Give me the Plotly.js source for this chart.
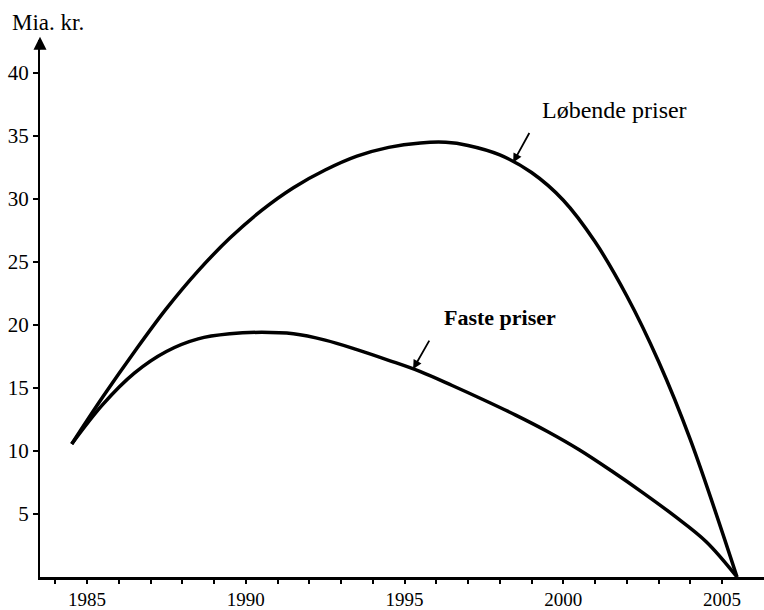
<!DOCTYPE html>
<html>
<head>
<meta charset="utf-8">
<script src="https://cdn.plot.ly/plotly-3.0.1.min.js"></script>
<style>html,body{margin:0;padding:0;background:#fff;}#chart{width:764px;height:610px;}</style>
</head>
<body>
<div id="chart"></div>
<script>
// Løbende priser (current prices), Mia. kr.
const yearsLobende = [1984.52, 1985.5, 1986.5, 1987.5, 1988.5, 1989.5, 1990.5, 1991.5, 1992.5, 1993.5, 1994.5, 1995.5, 1996.3, 1997.0, 1998.0, 1999.0, 2000.0, 2001.0, 2002.0, 2003.0, 2004.0, 2005.47];
const lobende = [10.56, 14.3, 17.9, 21.3, 24.3, 26.9, 29.1, 30.9, 32.3, 33.4, 34.1, 34.45, 34.5, 34.25, 33.5, 32.1, 29.9, 26.6, 22.3, 17.1, 10.9, 0];
// Faste priser (constant prices), Mia. kr.
const yearsFaste = [1984.52, 1985.5, 1986.5, 1987.5, 1988.5, 1989.5, 1990.5, 1991.5, 1992.5, 1993.5, 1994.5, 1995.5, 1996.5, 1997.5, 1998.5, 1999.5, 2000.5, 2001.5, 2002.5, 2003.5, 2004.5, 2005.47];
const faste = [10.56, 13.7, 16.2, 17.9, 18.9, 19.3, 19.42, 19.3, 18.8, 18.05, 17.2, 16.3, 15.2, 14.05, 12.85, 11.55, 10.1, 8.45, 6.7, 4.85, 2.8, 0];

const xTickVals = [1985, 1990, 1995, 2000, 2005];
const xTickText = ['1985', '1990', '1995', '2000', '2005'];
const yTickVals = [5, 10, 15, 20, 25, 30, 35, 40];
const yTickText = ['5', '10', '15', '20', '25', '30', '35', '40'];
const seriesNames = ['Løbende priser', 'Faste priser'];
const yUnit = 'Mia. kr.';

const minorTicks = [];
for (let y = 1984; y <= 2005; y++) minorTicks.push(y);

const serif = 'Liberation Serif, Times New Roman, serif';
const lineStyle = {color: '#000', width: 3.5, shape: 'spline', smoothing: 1};

const traces = [
  {x: yearsLobende, y: lobende, mode: 'lines', name: seriesNames[0], line: lineStyle, hoverinfo: 'skip'},
  {x: yearsFaste, y: faste, mode: 'lines', name: seriesNames[1], line: lineStyle, hoverinfo: 'skip'}
];

const layout = {
  width: 764, height: 610,
  margin: {l: 40, r: 0, t: 40, b: 33, pad: 0},
  paper_bgcolor: '#fff', plot_bgcolor: '#fff',
  showlegend: false,
  font: {family: serif, color: '#000'},
  xaxis: {
    range: [1983.52, 2006.32],
    tickvals: xTickVals, ticktext: xTickText,
    ticks: 'outside', ticklen: 4, tickwidth: 2, tickcolor: '#000',
    ticklabelstandoff: 0,
    minor: {tickvals: minorTicks, ticks: 'outside', ticklen: 4, tickwidth: 2, tickcolor: '#000', showgrid: false},
    showline: true, linecolor: '#000', linewidth: 2.5,
    showgrid: false, zeroline: false,
    tickfont: {family: serif, size: 19, color: '#000'}
  },
  yaxis: {
    range: [0, 42.62],
    tickvals: yTickVals, ticktext: yTickText,
    ticks: 'outside', ticklen: 5, tickwidth: 2, tickcolor: '#000',
    showline: true, linecolor: '#000', linewidth: 2,
    showgrid: false, zeroline: false,
    tickfont: {family: serif, size: 21, color: '#000'}
  },
  annotations: [
    {xref: 'paper', yref: 'paper', x: 0, y: 1.006, text: '', showarrow: true,
     ax: 0, ay: 14, arrowhead: 2, arrowsize: 1.3, arrowwidth: 2, arrowcolor: '#000'},
    {xref: 'paper', yref: 'paper', x: -0.0414, y: 1.0335, xanchor: 'left', yanchor: 'middle',
     text: yUnit, showarrow: false, font: {family: serif, size: 23, color: '#000'}},
    {x: 1998.42, y: 32.9, text: '', showarrow: true, ax: 17, ay: -31,
     arrowhead: 2, arrowsize: 1, arrowwidth: 1.8, arrowcolor: '#000'},
    {x: 1999.27, y: 37.06, xanchor: 'left', yanchor: 'middle', text: seriesNames[0], showarrow: false,
     font: {family: serif, size: 24, color: '#000'}},
    {x: 1995.27, y: 16.5, text: '', showarrow: true, ax: 17, ay: -30,
     arrowhead: 2, arrowsize: 1, arrowwidth: 1.8, arrowcolor: '#000'},
    {x: 1996.18, y: 20.56, xanchor: 'left', yanchor: 'middle', text: '<b>' + seriesNames[1] + '</b>', showarrow: false,
     font: {family: serif, size: 22, color: '#000'}}
  ]
};

Plotly.newPlot('chart', traces, layout, {staticPlot: true, displayModeBar: false});
</script>
</body>
</html>
